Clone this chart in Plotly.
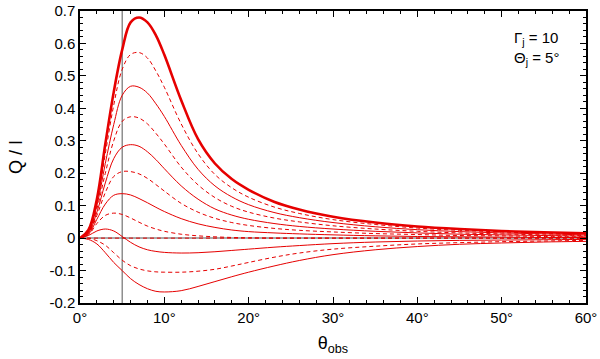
import plotly.graph_objects as go

# observing angle (deg)
theta_obs = [0, 1, 2, 3, 4, 5, 6, 7, 8, 9, 10, 12, 14, 16, 18, 20, 23, 26, 30, 35, 40, 45, 50, 55, 60]

# Q/I curves, top to bottom
q_top = [0, 0.025, 0.12, 0.29, 0.45, 0.58, 0.665, 0.68, 0.665, 0.625, 0.565, 0.425, 0.305, 0.23, 0.182, 0.149,
         0.112, 0.088, 0.066, 0.048, 0.036, 0.028, 0.022, 0.018, 0.015]
q_d1 = [0, 0.022, 0.11, 0.26, 0.41, 0.52, 0.566, 0.572, 0.555, 0.515, 0.465, 0.352, 0.26, 0.196, 0.155, 0.126,
        0.096, 0.076, 0.057, 0.042, 0.031, 0.024, 0.019, 0.015, 0.012]
q_s1 = [0, 0.02, 0.10, 0.23, 0.35, 0.44, 0.468, 0.465, 0.447, 0.414, 0.375, 0.286, 0.212, 0.161, 0.127, 0.103,
        0.079, 0.063, 0.048, 0.035, 0.026, 0.02, 0.016, 0.013, 0.01]
q_d2 = [0, 0.018, 0.09, 0.20, 0.30, 0.36, 0.374, 0.37, 0.352, 0.323, 0.29, 0.219, 0.164, 0.125, 0.098, 0.08,
        0.062, 0.05, 0.038, 0.028, 0.021, 0.016, 0.013, 0.01, 0.008]
q_s2 = [0, 0.016, 0.08, 0.17, 0.245, 0.28, 0.288, 0.283, 0.266, 0.242, 0.214, 0.161, 0.12, 0.09, 0.071, 0.058,
        0.045, 0.036, 0.028, 0.021, 0.016, 0.012, 0.01, 0.008, 0.006]
q_d3 = [0, 0.014, 0.07, 0.14, 0.19, 0.205, 0.205, 0.198, 0.184, 0.165, 0.145, 0.107, 0.08, 0.061, 0.048, 0.039,
        0.03, 0.024, 0.019, 0.014, 0.011, 0.008, 0.007, 0.005, 0.004]
q_s3 = [0, 0.012, 0.058, 0.105, 0.132, 0.137, 0.133, 0.122, 0.109, 0.095, 0.082, 0.06, 0.044, 0.033, 0.025, 0.02,
        0.016, 0.013, 0.01, 0.007, 0.005, 0.004, 0.003, 0.002, 0.002]
q_d4 = [0, 0.01, 0.045, 0.07, 0.077, 0.073, 0.062, 0.049, 0.037, 0.028, 0.021, 0.012, 0.007, 0.004, 0.002, 0.001,
        0.0, 0.0, 0.0, 0.0, 0.0, 0.0, 0.0, 0.0, 0.0]
q_s4 = [0, 0.008, 0.022, 0.028, 0.022, 0.005, -0.013, -0.027, -0.036, -0.041, -0.044, -0.046, -0.045, -0.042,
        -0.038, -0.034, -0.028, -0.023, -0.017, -0.012, -0.009, -0.007, -0.006, -0.005, -0.004]
q_zero = [0.0] * len(theta_obs)
q_d5 = [0, 0.0, -0.008, -0.022, -0.045, -0.068, -0.085, -0.095, -0.101, -0.104, -0.105, -0.105, -0.102, -0.096,
        -0.086, -0.075, -0.059, -0.046, -0.034, -0.025, -0.018, -0.014, -0.011, -0.009, -0.007]
q_s5 = [0, -0.004, -0.018, -0.045, -0.075, -0.1, -0.125, -0.143, -0.156, -0.164, -0.166, -0.162, -0.149, -0.134,
        -0.119, -0.105, -0.086, -0.069, -0.051, -0.036, -0.026, -0.019, -0.015, -0.012, -0.01]

red = "rgb(230,0,0)"
curves = [
    (q_top, 2.6, "solid"),
    (q_d1, 1, "4px,3px"),
    (q_s1, 1, "solid"),
    (q_d2, 1, "4px,3px"),
    (q_s2, 1, "solid"),
    (q_d3, 1, "4px,3px"),
    (q_s3, 1, "solid"),
    (q_d4, 1, "4px,3px"),
    (q_s4, 1, "solid"),
    (q_zero, 1, "4px,3px"),
    (q_d5, 1, "4px,3px"),
    (q_s5, 1, "solid"),
]

fig = go.Figure()
for ys, w, dash in curves:
    fig.add_trace(go.Scatter(x=theta_obs, y=ys, mode="lines", line_shape="spline",
                             line=dict(color=red, width=w, dash=dash), showlegend=False))

# reference lines
fig.add_shape(type="line", x0=0, x1=60, y0=0, y1=0, layer="below", line=dict(color="#aaaaaa", width=2))
fig.add_shape(type="line", x0=5, x1=5, y0=-0.2, y1=0.7, layer="below", line=dict(color="#555555", width=1))

fig.add_annotation(x=0.95, y=0.945, xref="paper", yref="paper", showarrow=False, xanchor="right",
                   yanchor="top", align="left",
                   text="Γ<sub>j</sub> = 10<br>Θ<sub>j</sub> = 5°", font=dict(size=15))

xvals = [0, 10, 20, 30, 40, 50, 60]
xlabels = ["0°", "10°", "20°", "30°", "40°", "50°", "60°"]
yvals = [-0.2, -0.1, 0, 0.1, 0.2, 0.3, 0.4, 0.5, 0.6, 0.7]
ylabels = ["-0.2", "-0.1", "0", "0.1", "0.2", "0.3", "0.4", "0.5", "0.6", "0.7"]

axis_common = dict(showline=True, linecolor="black", linewidth=1.5, mirror="ticks", ticks="inside",
                   ticklen=6, tickwidth=1.2, tickcolor="black", showgrid=False, zeroline=False,
                   automargin=False, ticklabeloverflow="allow")

fig.update_xaxes(range=[0, 60], tickvals=xvals, ticktext=xlabels,
                 minor=dict(dtick=2, ticks="inside", ticklen=3, tickcolor="black"),
                 title=dict(text="θ<sub>obs</sub>", standoff=12), **axis_common)
fig.update_yaxes(range=[-0.2, 0.7], tickvals=yvals, ticktext=ylabels,
                 minor=dict(dtick=0.02, ticks="inside", ticklen=3, tickcolor="black"),
                 title=dict(text="Q / I", standoff=22), **axis_common)

fig.update_layout(width=600, height=359, margin=dict(l=80, r=14, t=11, b=56),
                  plot_bgcolor="white", paper_bgcolor="white",
                  font=dict(family="Arial", size=15, color="black"))

# drop the default 8px body margin so the figure sits at the window's corner
fig.write_html("out.html", config={"displayModeBar": False},
               post_script="document.body.style.margin='0';")
